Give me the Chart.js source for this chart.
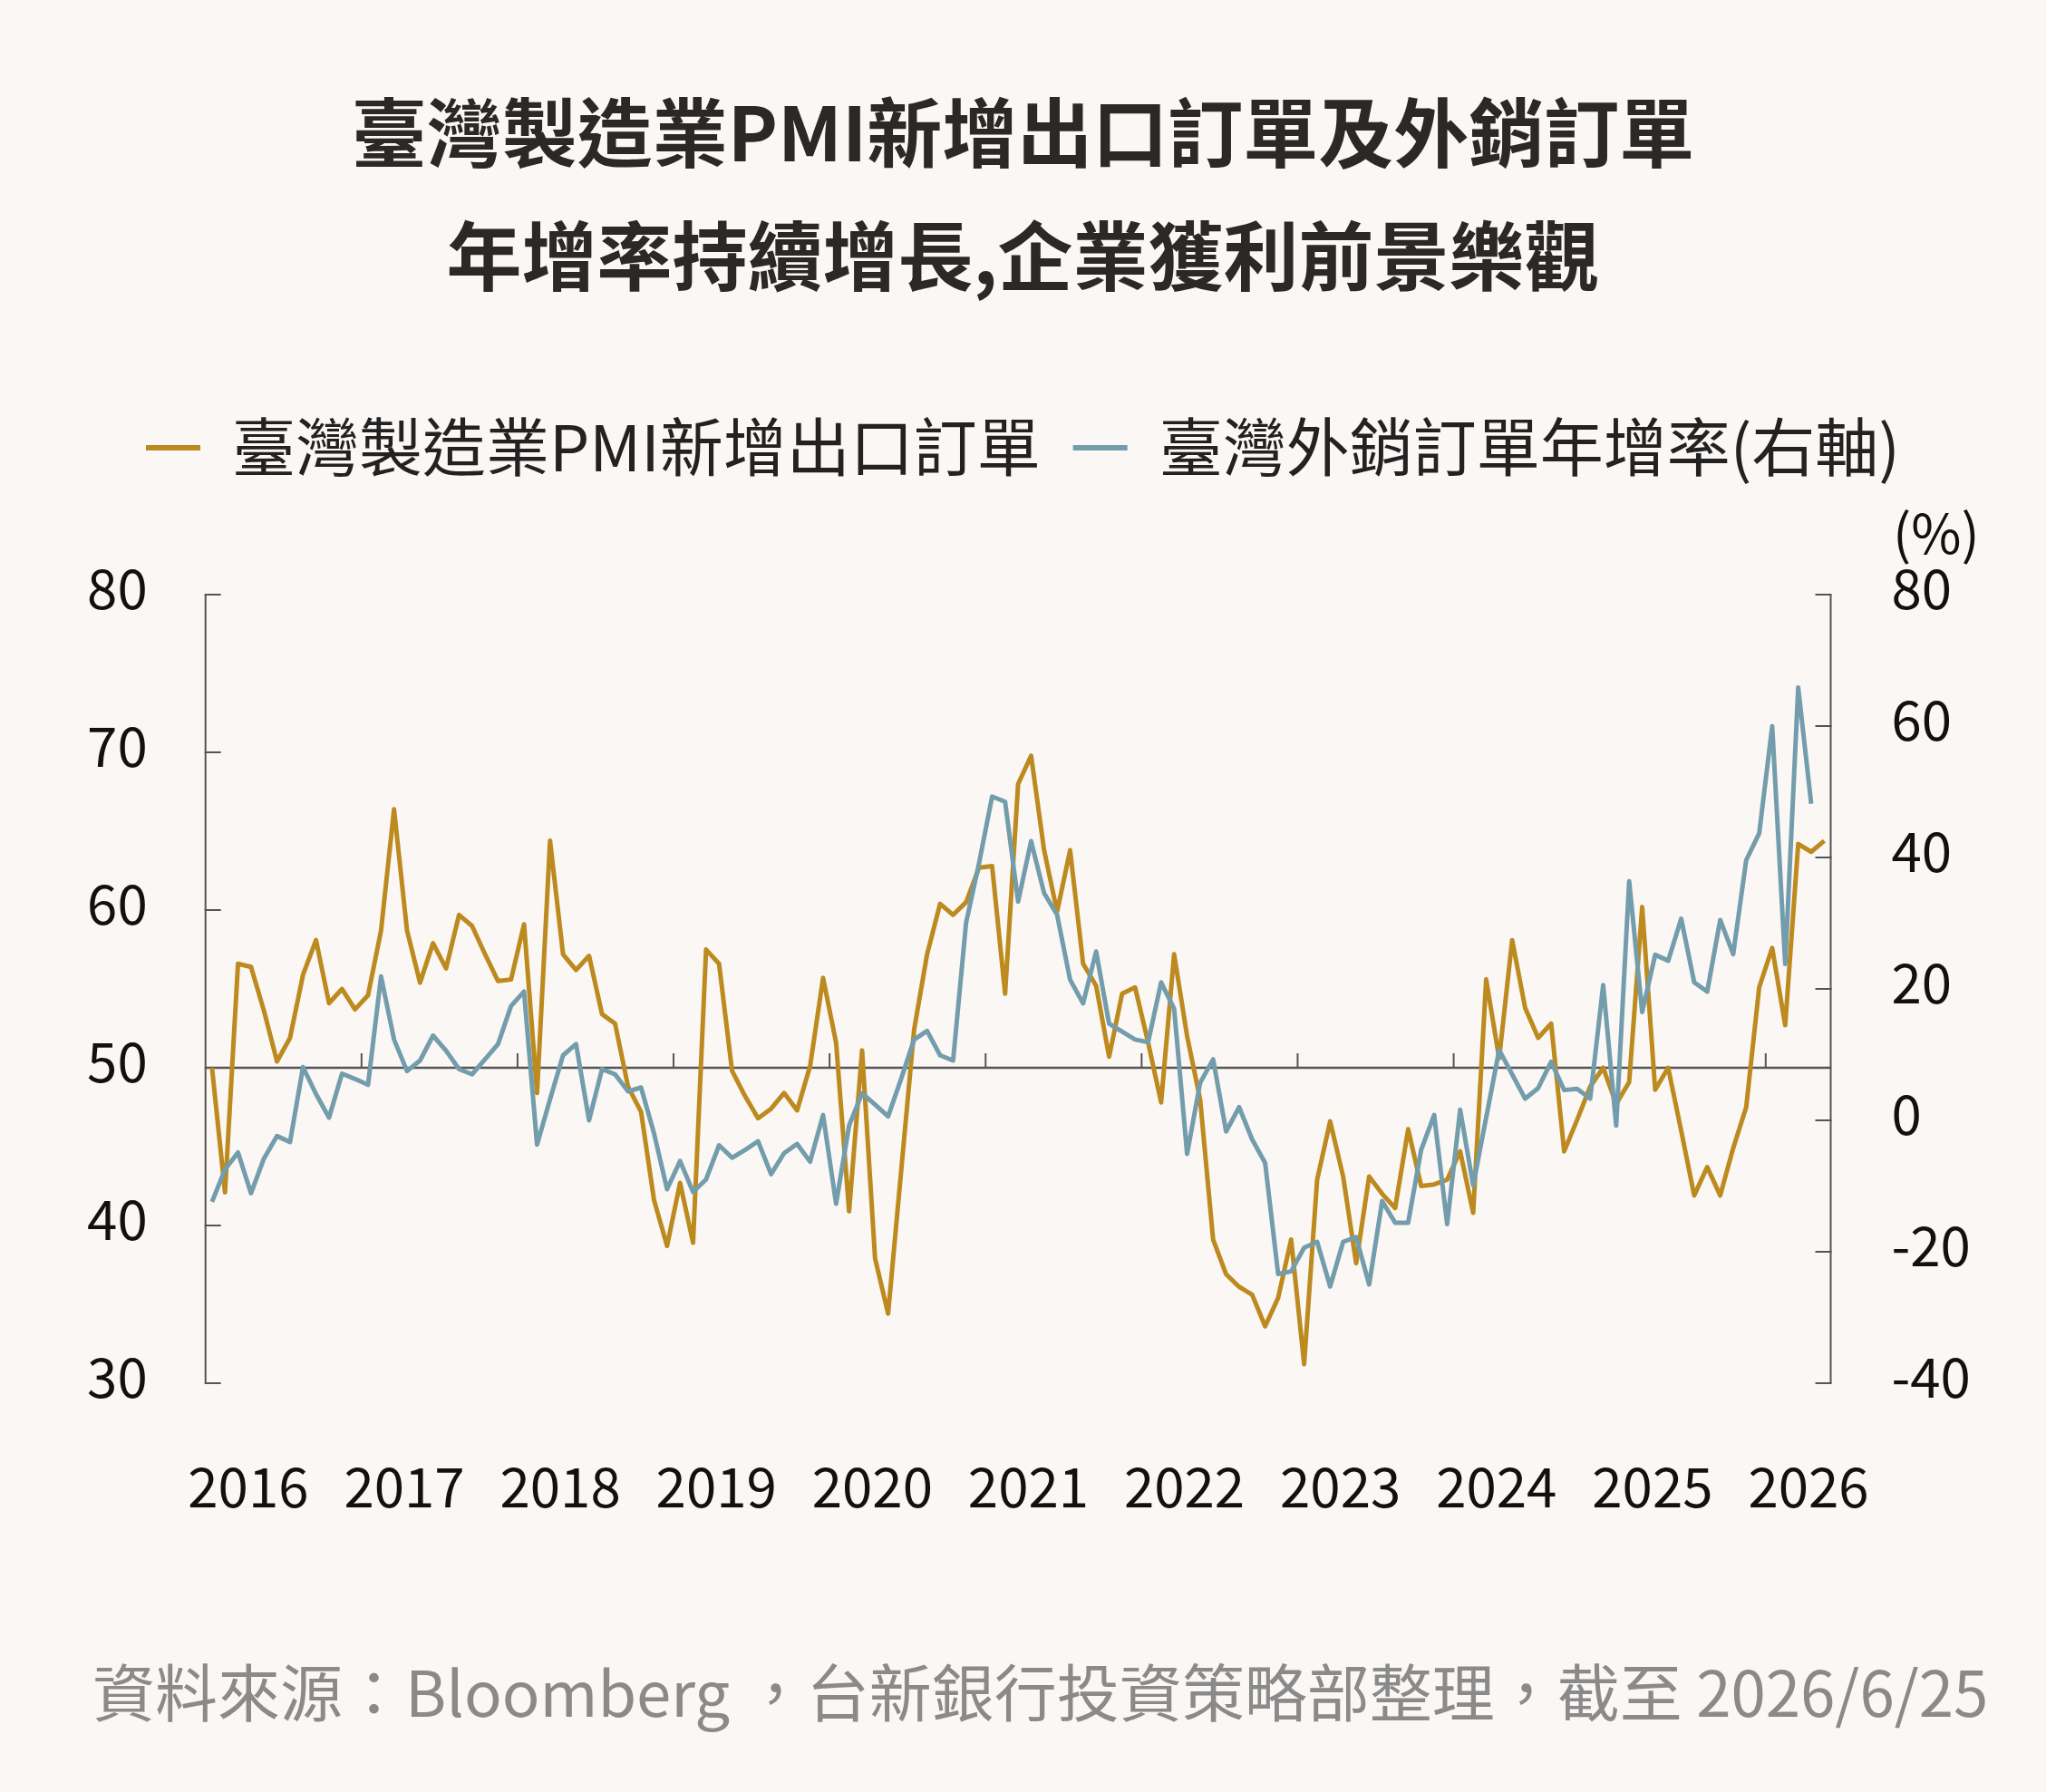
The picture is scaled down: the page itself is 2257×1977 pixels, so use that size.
<!DOCTYPE html>
<html>
<head>
<meta charset="utf-8">
<script src="https://cdn.jsdelivr.net/npm/chart.js@4.4.1/dist/chart.umd.min.js"></script>
<style>
  html, body { margin: 0; padding: 0; background: #FBF7F5; }
  #wrap { position: relative; width: 2257px; height: 1977px; }
  canvas { display: block; }
</style>
</head>
<body>
<div id="wrap"><canvas id="c" width="2257" height="1977"></canvas></div>
<script>
// ---------------- DATA ----------------
const years = ['2016','2017','2018','2019','2020','2021','2022','2023','2024','2025','2026'];
const monthNames = ['01','02','03','04','05','06','07','08','09','10','11','12'];
const yearTickLabels = ['2016','2017','2018','2019','2020','2021','2022','2023','2024','2025','2026'];

// 臺灣製造業PMI新增出口訂單 (left axis), Jan 2016 – May 2026
const pmiNewExportOrders = [
  50.0, 42.1, 56.6, 56.4, 53.6, 50.4, 51.9, 55.9, 58.1, 54.1, 55.0, 53.7,
  54.6, 58.7, 66.4, 58.7, 55.4, 57.9, 56.3, 59.7, 59.0, 57.2, 55.5, 55.6,
  59.1, 48.4, 64.4, 57.2, 56.2, 57.1, 53.4, 52.8, 48.8, 47.2, 41.6, 38.7,
  42.7, 38.9, 57.5, 56.6, 49.8, 48.2, 46.8, 47.4, 48.4, 47.3, 50.1, 55.7,
  51.6, 40.9, 51.1, 37.9, 34.4, 43.4, 52.4, 57.2, 60.4, 59.7, 60.5, 62.7,
  62.8, 54.7, 68.0, 69.8, 63.8, 59.9, 63.8, 56.6, 55.2, 50.7, 54.7, 55.1,
  51.6, 47.8, 57.2, 52.0, 48.0, 39.1, 36.9, 36.1, 35.6, 33.6, 35.4, 39.1,
  31.2, 42.9, 46.6, 43.1, 37.6, 43.1, 42.0, 41.1, 46.1, 42.5, 42.6, 42.9,
  44.7, 40.8, 55.6, 50.6, 58.1, 53.8, 51.9, 52.8, 44.7, 46.7, 48.8, 50.0,
  47.7, 49.1, 60.2, 48.6, 50.0, 46.0, 41.9, 43.7, 41.9, 44.9, 47.5, 55.1,
  57.6, 52.7, 64.2, 63.7, 64.4
];

// 臺灣外銷訂單年增率 (%) (right axis), Jan 2016 – Apr 2026
const exportOrdersYoY = [
  -12.4, -7.5, -4.9, -11.1, -5.8, -2.4, -3.3, 8.1, 4.0, 0.4, 7.1, 6.3,
  5.4, 21.9, 12.3, 7.5, 9.1, 12.9, 10.6, 7.8, 7.0, 9.3, 11.6, 17.4,
  19.6, -3.7, 3.2, 9.9, 11.6, 0.0, 7.8, 7.0, 4.4, 5.0, -2.0, -10.5,
  -6.2, -10.9, -9.0, -3.8, -5.7, -4.5, -3.2, -8.2, -5.0, -3.6, -6.3, 0.8,
  -12.7, -0.8, 4.1, 2.4, 0.6, 6.3, 12.3, 13.6, 9.9, 9.1, 30.1, 39.2,
  49.3, 48.5, 33.3, 42.5, 34.6, 31.3, 21.4, 17.8, 25.7, 14.7, 13.5, 12.3,
  11.9, 21.0, 17.0, -5.1, 5.7, 9.3, -1.7, 2.0, -2.9, -6.5, -23.4, -23.0,
  -19.4, -18.5, -25.3, -18.5, -17.8, -25.0, -12.3, -15.6, -15.6, -4.5, 0.8, -15.8,
  1.6, -9.9, 0.4, 10.7, 7.0, 3.3, 4.9, 8.9, 4.6, 4.8, 3.3, 20.6,
  -0.8, 36.4, 16.5, 25.2, 24.3, 30.7, 21.0, 19.6, 30.5, 25.3, 39.6, 43.7,
  60.0, 23.8, 65.9, 48.2, null
];

const leftTicks = { min: 30, max: 80, step: 10 };
const rightTicks = { min: -40, max: 80, step: 20 };

const titleLines = ['臺灣製造業PMI新增出口訂單及外銷訂單', '年增率持續增長,企業獲利前景樂觀'];
const seriesNames = ['臺灣製造業PMI新增出口訂單', '臺灣外銷訂單年增率(右軸)'];
const unitLabel = '(%)';
const sourceNote = '資料來源：Bloomberg ，台新銀行投資策略部整理，截至 2026/6/25';

// categories: months Jan 2016 .. May 2026
const categories = [];
years.forEach(y => monthNames.forEach(m => categories.push(y + '/' + m)));
categories.length = pmiNewExportOrders.length;

// ---------------- STYLE ----------------
const FONT = '"Noto Sans CJK TC", "Noto Sans CJK SC", "Noto Sans", sans-serif';
const GOLD = '#BC8A1F';
const BLUE = '#739DAC';
const AXIS = '#555555';
const BG = '#FBF7F5';

const W = 2257, H = 1977;
const PLOT_LEFT = 226.7, PLOT_RIGHT = 2019.5, PLOT_TOP = 656.4, PLOT_BOTTOM = 1525.8;

const decor = {
  id: 'decor',
  beforeDraw(chart) {
    const ctx = chart.ctx;
    ctx.save();
    ctx.fillStyle = BG;
    ctx.fillRect(0, 0, chart.width, chart.height);
    ctx.restore();
  },
  beforeDatasetsDraw(chart) {
    const ctx = chart.ctx;
    const { x, y, y1 } = chart.scales;
    const L = chart.chartArea.left, R = chart.chartArea.right;
    ctx.save();
    ctx.strokeStyle = AXIS;
    ctx.lineCap = 'butt';
    // left axis
    ctx.lineWidth = 2;
    ctx.beginPath();
    ctx.moveTo(L, y.getPixelForValue(leftTicks.max));
    ctx.lineTo(L, y.getPixelForValue(leftTicks.min));
    ctx.stroke();
    y.ticks.forEach(t => {
      const py = Math.round(y.getPixelForValue(t.value));
      ctx.beginPath();
      ctx.moveTo(L - 1, py);
      ctx.lineTo(L + 17, py);
      ctx.stroke();
    });
    // right axis
    ctx.beginPath();
    ctx.moveTo(R, y1.getPixelForValue(rightTicks.max));
    ctx.lineTo(R, y1.getPixelForValue(rightTicks.min));
    ctx.stroke();
    y1.ticks.forEach(t => {
      const py = Math.round(y1.getPixelForValue(t.value));
      ctx.beginPath();
      ctx.moveTo(R + 1, py);
      ctx.lineTo(R - 17, py);
      ctx.stroke();
    });
    // 50 reference line (acts as x axis)
    const y50 = y.getPixelForValue(50);
    ctx.lineWidth = 2.5;
    ctx.beginPath();
    ctx.moveTo(L, y50);
    ctx.lineTo(R, y50);
    ctx.stroke();
    // year boundary ticks
    ctx.lineWidth = 2;
    for (let i = 12; i < categories.length; i += 12) {
      const bx = (x.getPixelForValue(i - 1) + x.getPixelForValue(i)) / 2;
      ctx.beginPath();
      ctx.moveTo(bx, y50);
      ctx.lineTo(bx, y50 - 16);
      ctx.stroke();
    }
    ctx.restore();
  },
  afterDraw(chart) {
    const ctx = chart.ctx;
    ctx.save();
    ctx.fillStyle = '#111111';
    ctx.font = `60px ${FONT}`;
    ctx.textAlign = 'left';
    ctx.textBaseline = 'middle';
    ctx.fillText(unitLabel, 2088, 588);
    ctx.fillStyle = '#8A8A8A';
    ctx.font = `69px ${FONT}`;
    ctx.fillText(sourceNote, 102, 1868);
    ctx.restore();
  }
};

new Chart(document.getElementById('c'), {
  type: 'line',
  data: {
    labels: categories,
    datasets: [
      {
        label: seriesNames[0],
        data: pmiNewExportOrders,
        borderColor: GOLD,
        backgroundColor: GOLD,
        borderWidth: 5,
        pointRadius: 0,
        tension: 0,
        yAxisID: 'y',
        xAxisID: 'x',
        order: 1,
        borderJoinStyle: 'round'
      },
      {
        label: seriesNames[1],
        data: exportOrdersYoY,
        borderColor: BLUE,
        backgroundColor: BLUE,
        borderWidth: 5,
        pointRadius: 0,
        tension: 0,
        yAxisID: 'y1',
        xAxisID: 'x',
        order: 0,
        borderJoinStyle: 'round'
      }
    ]
  },
  options: {
    responsive: false,
    animation: false,
    events: [],
    devicePixelRatio: 1,
    layout: { padding: 0 },
    plugins: {
      tooltip: { enabled: false },
      title: {
        display: true,
        text: titleLines,
        color: '#2B2826',
        font: { family: FONT, size: 83, weight: 'bold', lineHeight: 1.65 },
        padding: { top: 77.5, bottom: 71.5 }
      },
      legend: {
        display: true,
        position: 'top',
        align: 'center',
        labels: {
          boxWidth: 60,
          boxHeight: 6,
          padding: 36,
          color: '#222222',
          font: { family: FONT, size: 70 },
          generateLabels: (chart) => chart.data.datasets.map((ds, i) => ({
            text: ds.label,
            fillStyle: ds.borderColor,
            strokeStyle: ds.borderColor,
            lineWidth: 0,
            hidden: false,
            datasetIndex: i,
            fontColor: '#222222'
          }))
        }
      }
    },
    scales: {
      x: {
        type: 'category',
        position: 'bottom',
        offset: true,
        grid: { display: false, drawTicks: false },
        border: { display: false },
        ticks: {
          autoSkip: false,
          maxRotation: 0,
          minRotation: 0,
          padding: 78,
          labelOffset: -3,
          color: '#111111',
          font: { family: FONT, size: 60 },
          callback: (v, i) => (i % 12 === 3 ? yearTickLabels[(i - 3) / 12] : '')
        },
        afterFit: (s) => { s.height = H - PLOT_BOTTOM; }
      },
      xTop: {
        type: 'category',
        position: 'top',
        display: true,
        grid: { display: false, drawTicks: false },
        border: { display: false },
        ticks: { display: false },
        afterFit: (s) => { s.height = 117.4; }
      },
      y: {
        position: 'left',
        min: leftTicks.min,
        max: leftTicks.max,
        grid: { display: false, drawTicks: false },
        border: { display: false },
        ticks: {
          stepSize: leftTicks.step,
          padding: 64,
          labelOffset: -7,
          color: '#111111',
          font: { family: FONT, size: 60 }
        },
        afterFit: (s) => { s.width = PLOT_LEFT; }
      },
      y1: {
        position: 'right',
        min: rightTicks.min,
        max: rightTicks.max,
        grid: { display: false, drawTicks: false },
        border: { display: false },
        ticks: {
          stepSize: rightTicks.step,
          padding: 67,
          labelOffset: -7,
          color: '#111111',
          font: { family: FONT, size: 60 }
        },
        afterFit: (s) => { s.width = W - PLOT_RIGHT; }
      }
    }
  },
  plugins: [decor]
});
</script>
</body>
</html>
